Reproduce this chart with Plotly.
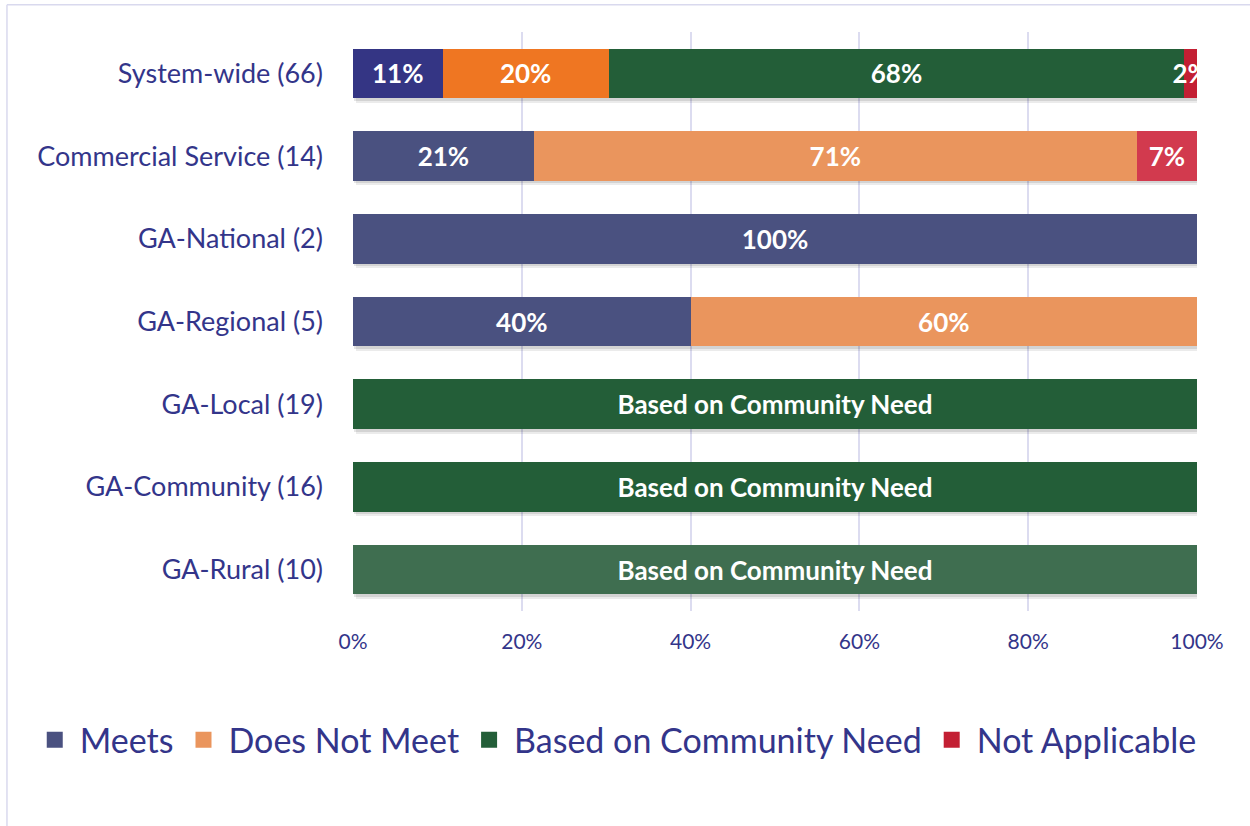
import plotly.graph_objects as go

# Site counts by category and standard status
categories = [
    "System-wide (66)",
    "Commercial Service (14)",
    "GA-National (2)",
    "GA-Regional (5)",
    "GA-Local (19)",
    "GA-Community (16)",
    "GA-Rural (10)",
]
totals = [66, 14, 2, 5, 19, 16, 10]
meets = [7, 3, 2, 2, 0, 0, 0]
does_not_meet = [13, 10, 0, 3, 0, 0, 0]
community_need = [45, 0, 0, 0, 19, 16, 10]
not_applicable = [1, 1, 0, 0, 0, 0, 0]

series_names = ["Meets", "Does Not Meet", "Based on Community Need", "Not Applicable"]
series_counts = [meets, does_not_meet, community_need, not_applicable]

# Rows whose single segment is labelled by its status instead of a percentage
status_label_rows = ["GA-Local (19)", "GA-Community (16)", "GA-Rural (10)"]

# Styling
TEXT_BLUE = "#33358A"
legend_colors = ["#4A5180", "#EA955D", "#235E38", "#C31F33"]
bar_colors = {
    "Meets": ["#343584", "#4A5180", "#4A5180", "#4A5180", "#4A5180", "#4A5180", "#4A5180"],
    "Does Not Meet": ["#EF7622", "#EA955D", "#EA955D", "#EA955D", "#EA955D", "#EA955D", "#EA955D"],
    "Based on Community Need": ["#235E38", "#235E38", "#235E38", "#235E38", "#235E38", "#235E38", "#3F6E50"],
    "Not Applicable": ["#C31F33", "#D23A4E", "#D23A4E", "#D23A4E", "#D23A4E", "#D23A4E", "#D23A4E"],
}
FONT = "Lato"
BAR_WIDTH = 0.6

percent_series = [[100.0 * c / t for c, t in zip(counts, totals)] for counts in series_counts]
row_totals = [sum(vals) for vals in zip(*percent_series)]

fig = go.Figure()

# Soft drop shadow under each full bar (drawn on the base axes, beneath the bars)
for shift_y, shift_x, alpha in [(0.03, 0.15, 0.10), (0.055, 0.3, 0.08)]:
    fig.add_trace(go.Bar(
        y=categories,
        x=row_totals,
        base=shift_x,
        orientation="h",
        width=BAR_WIDTH,
        offset=-BAR_WIDTH / 2 + shift_y,
        marker=dict(color=f"rgba(0,0,0,{alpha})", line=dict(width=0)),
        showlegend=False,
        hoverinfo="skip",
        xaxis="x",
        yaxis="y",
    ))

for name, pct in zip(series_names, percent_series):
    labels = []
    for cat, p in zip(categories, pct):
        if p <= 0:
            labels.append("")
        elif cat in status_label_rows:
            labels.append(name)
        else:
            labels.append(f"{p:.0f}%")
    fig.add_trace(go.Bar(
        y=categories,
        x=pct,
        orientation="h",
        name=name,
        width=BAR_WIDTH,
        marker=dict(color=bar_colors[name], line=dict(width=0)),
        text=labels,
        textposition="inside",
        insidetextanchor="middle",
        constraintext="none",
        textangle=0,
        textfont=dict(family=FONT, size=26, color="white", weight="bold"),
        cliponaxis=True,
        showlegend=False,
        hoverinfo="skip",
        xaxis="x2",
        yaxis="y2",
    ))

# Legend entries
for name, color in zip(series_names, legend_colors):
    fig.add_trace(go.Scatter(
        x=[None], y=[None], mode="markers", name=name,
        marker=dict(symbol="square", size=20, color=color),
        showlegend=True,
        xaxis="x2",
        yaxis="y2",
    ))

fig.update_layout(
    width=1250,
    height=826,
    barmode="stack",
    paper_bgcolor="white",
    plot_bgcolor="white",
    margin=dict(l=353, r=53, t=32, b=215, autoexpand=False),
    font=dict(family=FONT, color=TEXT_BLUE),
    xaxis=dict(
        range=[0, 100],
        tickvals=[0, 20, 40, 60, 80, 100],
        ticktext=["0%", "20%", "40%", "60%", "80%", "100%"],
        tickfont=dict(size=21, color=TEXT_BLUE),
        showgrid=True,
        gridcolor="#DCDCF0",
        gridwidth=1.5,
        zeroline=False,
        showline=False,
        ticks="",
        ticklen=0,
        ticklabelstandoff=16,
    ),
    yaxis=dict(
        autorange="reversed",
        categoryorder="array",
        categoryarray=categories,
        tickfont=dict(size=27, color=TEXT_BLUE),
        showgrid=False,
        zeroline=False,
        ticks="",
        ticklabelstandoff=29,
    ),
    xaxis2=dict(
        overlaying="x",
        range=[0, 100],
        showgrid=False,
        zeroline=False,
        showticklabels=False,
        ticks="",
    ),
    yaxis2=dict(
        overlaying="y",
        autorange="reversed",
        categoryorder="array",
        categoryarray=categories,
        showgrid=False,
        zeroline=False,
        showticklabels=False,
        ticks="",
    ),
    legend=dict(
        orientation="h",
        x=-0.383,
        xanchor="left",
        y=-0.223,
        yanchor="middle",
        font=dict(size=34, color=TEXT_BLUE),
        itemsizing="trace",
        itemwidth=40,
        traceorder="normal",
        tracegroupgap=0,
    ),
    shapes=[
        dict(type="line", xref="paper", yref="paper", x0=-0.41, x1=1.1, y0=1.047, y1=1.047,
             line=dict(color="#D9D9EE", width=1.5)),
        dict(type="line", xref="paper", yref="paper", x0=-0.41, x1=-0.41, y0=-0.4, y1=1.047,
             line=dict(color="#D9D9EE", width=1.5)),
    ],
)

fig.write_html("out.html")
